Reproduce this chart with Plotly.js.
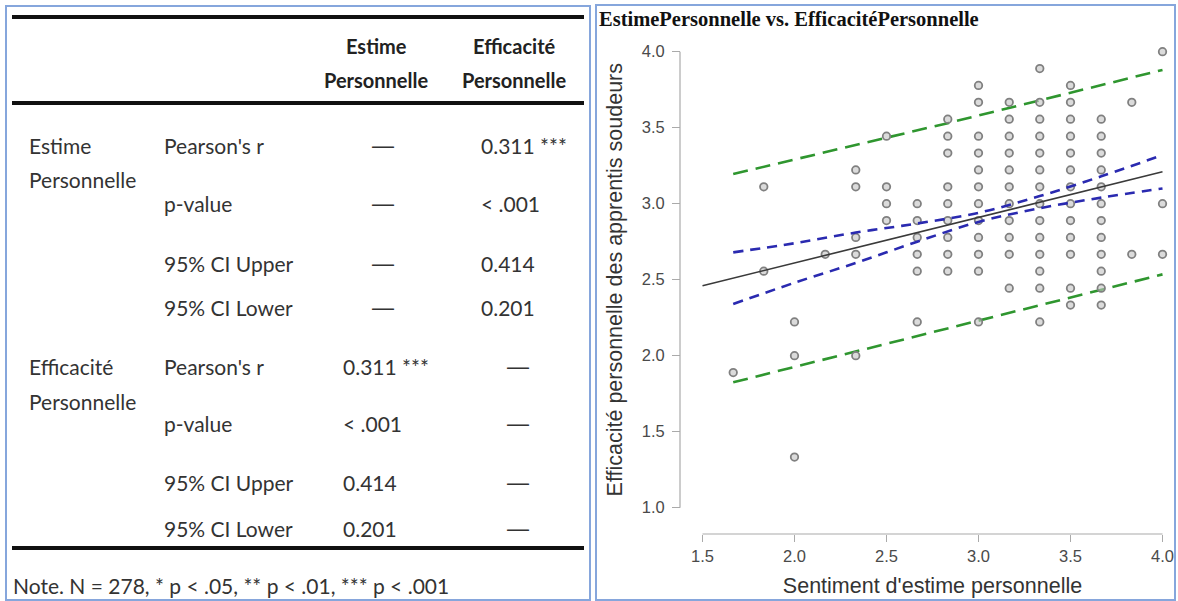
<!DOCTYPE html>
<html>
<head>
<meta charset="utf-8">
<script src="https://cdn.plot.ly/plotly-3.0.1.min.js"></script>
<style>html,body{margin:0;padding:0;background:#fff;}#chart{width:1178px;height:601px;}</style>
</head>
<body>
<div id="chart"></div>
<script>
// ---------- DATA ----------
// Correlation table
const headerLabels = ["Estime<br>Personnelle", "Efficacité<br>Personnelle"];
const groupLabels = ["Estime<br>Personnelle", "Efficacité<br>Personnelle"];
const statLabels = ["Pearson's r", "p-value", "95% CI Upper", "95% CI Lower"];
const estimeColumn = ["—", "—", "—", "—", "0.311 ***", "< .001", "0.414", "0.201"];
const efficaciteColumn = ["0.311 ***", "< .001", "0.414", "0.201", "—", "—", "—", "—"];
const noteText = "Note. N = 278, * p < .05, ** p < .01, *** p < .001";

// Scatter: Estime (x levels) and the Efficacité values seen at each level
const estimeLevels = [1.667, 1.833, 2.0, 2.167, 2.333, 2.5, 2.667, 2.833, 3.0, 3.167, 3.333, 3.5, 3.667, 3.833, 4.0];
const efficaciteAtLevel = [
  [1.889],
  [3.111, 2.556],
  [2.222, 2.0, 1.333],
  [2.667],
  [3.222, 3.111, 2.778, 2.667, 2.0],
  [3.444, 3.111, 3.0, 2.889],
  [3.0, 2.889, 2.778, 2.667, 2.556, 2.222],
  [3.556, 3.444, 3.333, 3.111, 3.0, 2.889, 2.778, 2.667, 2.556],
  [3.778, 3.667, 3.444, 3.333, 3.222, 3.111, 3.0, 2.889, 2.778, 2.667, 2.556, 2.222],
  [3.667, 3.556, 3.444, 3.333, 3.222, 3.111, 3.0, 2.889, 2.778, 2.667, 2.444],
  [3.889, 3.667, 3.556, 3.444, 3.333, 3.222, 3.111, 3.0, 2.889, 2.778, 2.667, 2.556, 2.444, 2.222],
  [3.778, 3.667, 3.556, 3.444, 3.333, 3.222, 3.111, 3.0, 2.889, 2.778, 2.667, 2.444, 2.333],
  [3.556, 3.444, 3.333, 3.222, 3.111, 3.0, 2.889, 2.778, 2.667, 2.556, 2.444, 2.333],
  [3.667, 2.667],
  [4.0, 3.0, 2.667]
];

// Regression line (read at the ends)
const fitX = [1.5, 4.0];
const fitY = [2.46, 3.21];
// Confidence band (blue)
const confX = [1.667, 2.0, 2.333, 2.667, 3.0, 3.333, 3.667, 4.0];
const confUpper = [2.68, 2.74, 2.81, 2.87, 2.94, 3.05, 3.18, 3.32];
const confLower = [2.34, 2.48, 2.61, 2.75, 2.88, 2.97, 3.04, 3.10];
// Prediction band (green)
const predX = [1.667, 2.833, 4.0];
const predUpper = [3.195, 3.53, 3.88];
const predLower = [1.825, 2.18, 2.535];

const xTicks = [1.5, 2.0, 2.5, 3.0, 3.5, 4.0];
const yTicks = [1.0, 1.5, 2.0, 2.5, 3.0, 3.5, 4.0];

// ---------- LAYOUT HELPERS ----------
const W = 1178, H = 601;
const px = v => v / W;
const py = v => 1 - v / H;

const ptsX = [], ptsY = [];
estimeLevels.forEach((lv, i) => efficaciteAtLevel[i].forEach(v => { ptsX.push(lv); ptsY.push(v); }));

const traces = [
  {
    type: 'scatter', mode: 'lines', x: predX, y: predUpper, hoverinfo: 'skip',
    line: { color: '#2f962f', width: 2.6, dash: '15px,8px' }, showlegend: false
  },
  {
    type: 'scatter', mode: 'lines', x: predX, y: predLower, hoverinfo: 'skip',
    line: { color: '#2f962f', width: 2.6, dash: '15px,8px' }, showlegend: false
  },
  {
    type: 'scatter', mode: 'markers', x: ptsX, y: ptsY, cliponaxis: false,
    marker: { symbol: 'circle', size: 7.5, color: 'rgba(195,195,195,0.6)', line: { color: '#808080', width: 1.8 } },
    showlegend: false
  },
  {
    type: 'scatter', mode: 'lines', x: confX, y: confUpper, hoverinfo: 'skip',
    line: { color: '#2a2ab0', width: 2.6, dash: '10px,7px', shape: 'spline' }, showlegend: false
  },
  {
    type: 'scatter', mode: 'lines', x: confX, y: confLower, hoverinfo: 'skip',
    line: { color: '#2a2ab0', width: 2.6, dash: '10px,7px', shape: 'spline' }, showlegend: false
  },
  {
    type: 'scatter', mode: 'lines', x: fitX, y: fitY, hoverinfo: 'skip',
    line: { color: '#3a3a3a', width: 1.6 }, showlegend: false
  }
];

const tableFont = 'Lato, "Open Sans", sans-serif';
const tSize = 21;
const tCol = '#333';
const annotations = [];
const shapes = [];

// panel borders
shapes.push({ type: 'rect', xref: 'paper', yref: 'paper', x0: px(6), x1: px(590), y0: py(600), y1: py(6), line: { color: '#86a6dc', width: 2 } });
shapes.push({ type: 'rect', xref: 'paper', yref: 'paper', x0: px(596), x1: px(1175), y0: py(600), y1: py(5), line: { color: '#86a6dc', width: 2 } });

// table rules
[17, 103, 548].forEach(y => shapes.push({ type: 'line', xref: 'paper', yref: 'paper', x0: px(12), x1: px(584), y0: py(y), y1: py(y), line: { color: '#111', width: 4 } }));

function ann(x, y, text, xanchor, extra) {
  return Object.assign({ xref: 'paper', yref: 'paper', x: px(x), y: py(y), text: text, showarrow: false, xanchor: xanchor, yanchor: 'middle', font: { family: tableFont, size: tSize, color: tCol } }, extra || {});
}

// headers
const headerX = [376, 514];
headerLabels.forEach((lab, c) => {
  lab.split('<br>').forEach((t, i) => {
    annotations.push(ann(headerX[c], 46 + i * 34, '<b>' + t + '</b>', 'center', { font: { family: tableFont, size: 20, color: '#222' } }));
  });
});

// group labels
const groupY = [145, 366];
groupLabels.forEach((lab, g) => {
  lab.split('<br>').forEach((t, i) => annotations.push(ann(27, groupY[g] + i * 35, t, 'left')));
});

// stat rows
const rowY = [145, 204, 263, 307, 366, 423, 482, 528];
const dashFont = { family: '"Liberation Sans", Arial, sans-serif', size: 22, color: tCol };
rowY.forEach((y, r) => {
  annotations.push(ann(162, y, statLabels[r % 4], 'left'));
  const a = estimeColumn[r], b = efficaciteColumn[r];
  annotations.push(a === '—' ? ann(383, y, a, 'center', { font: dashFont }) : ann(341, y, a, 'left'));
  annotations.push(b === '—' ? ann(518, y, b, 'center', { font: dashFont }) : ann(479, y, b, 'left'));
});

annotations.push(ann(11, 585, noteText, 'left'));

// axis lines spanning only the tick range (offset axes)
const xAxisPos = py(534);
const yAxisPos = px(680);
shapes.push({ type: 'line', xref: 'x', yref: 'paper', x0: xTicks[0], x1: xTicks[xTicks.length - 1], y0: xAxisPos, y1: xAxisPos, line: { color: '#aaaaaa', width: 1.2 } });
shapes.push({ type: 'line', xref: 'paper', yref: 'y', x0: yAxisPos, x1: yAxisPos, y0: yTicks[0], y1: yTicks[yTicks.length - 1], line: { color: '#aaaaaa', width: 1.2 } });

const axisFont = { family: '"Liberation Sans", Arial, sans-serif', size: 16.5, color: '#4a4a4a' };
const titleFont = { family: '"Liberation Sans", Arial, sans-serif', size: 21.5, color: '#333' };
const layout = {
  width: W, height: H,
  margin: { l: 0, r: 0, t: 0, b: 0, pad: 0 },
  paper_bgcolor: '#fff', plot_bgcolor: 'rgba(0,0,0,0)',
  showlegend: false,
  title: {
    text: '<b>EstimePersonnelle vs. EfficacitéPersonnelle</b>',
    font: { family: '"Liberation Serif", "Times New Roman", serif', size: 20.5, color: '#111' },
    xref: 'paper', yref: 'paper', x: px(599), xanchor: 'left', y: py(19), yanchor: 'middle'
  },
  xaxis: {
    domain: [px(690), px(1175)], range: [1.4321, 4.0679],
    anchor: 'free', position: xAxisPos,
    tickvals: xTicks, tickformat: '.1f',
    ticks: 'outside', ticklen: 7, tickcolor: '#aaaaaa', tickwidth: 1,
    showgrid: false, zeroline: false, showline: false,
    tickfont: axisFont,
    title: { text: "Sentiment d'estime personnelle", font: titleFont, standoff: 14 }
  },
  yaxis: {
    domain: [py(512), py(47.4)], range: [0.9717, 4.0283],
    anchor: 'free', position: yAxisPos,
    tickvals: yTicks, tickformat: '.1f',
    ticks: 'outside', ticklen: 8, tickcolor: '#aaaaaa', tickwidth: 1,
    ticklabelstandoff: 4,
    showgrid: false, zeroline: false, showline: false,
    tickfont: axisFont,
    title: { text: 'Efficacité personnelle des apprentis soudeurs', font: titleFont, standoff: 12 }
  },
  shapes: shapes,
  annotations: annotations
};

Plotly.newPlot('chart', traces, layout, { displayModeBar: false, staticPlot: true });
</script>
</body>
</html>
